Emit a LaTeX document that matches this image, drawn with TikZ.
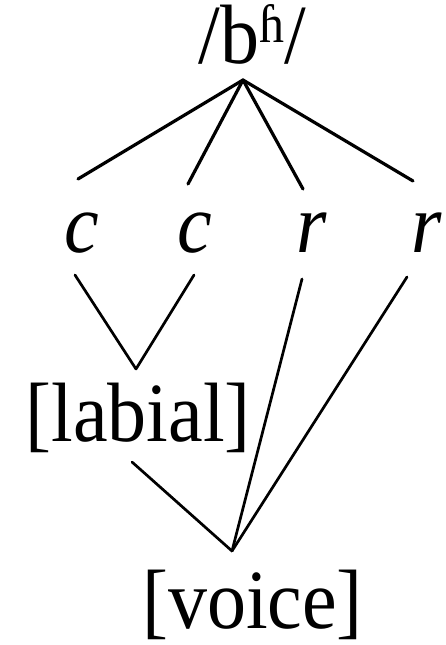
\documentclass[tikz,border=0pt]{standalone}
\usepackage{fontspec}
\setmainfont{Liberation Serif}
\usetikzlibrary{calc}

\newcommand{\tall}[1]{\scalebox{1}[1.08]{#1}}

\begin{document}
\begin{tikzpicture}[
        x=1pt, y=-1pt,
        every node/.style={font=\fontsize{78}{80}\selectfont, inner sep=0pt, anchor=base},
        seg/.style={line width=3.2pt, line cap=round},
        link/.style={line width=2.7pt, line cap=round}
    ]
        \useasboundingbox (0,0) rectangle (446,645);

        % tiers
        \node (root) at (252.5,63) {\tall{/b\raisebox{19pt}{\fontsize{50}{50}\selectfont ɦ}/}};
        \node (c1) at (82,252) {\tall{\textit{c}}};
        \node (c2) at (195,252) {\tall{\textit{c}}};
        \node (r1) at (312,252) {\tall{\textit{r}}};
        \node (r2) at (427,252) {\tall{\textit{r}}};
        \node (labial) at (138,441) {\tall{[labial]}};
        \node (voice) at (252.5,628) {\tall{[voice]}};

        \coordinate (apex) at ($(root.base)+(-9.5,17)$);
        \coordinate (lab) at ($(labial.base)+(-2,-72)$);
        \coordinate (voi) at ($(voice.base)+(-20.5,-77)$);

        % root to timing slots
        \draw[seg] (apex) -- ($(c1.base)+(-4,-73)$);
        \draw[seg] (apex) -- ($(c2.base)+(-7,-68)$);
        \draw[seg] (apex) -- ($(r1.base)+(-9,-63)$);
        \draw[seg] (apex) -- ($(r2.base)+(-14,-71)$);

        % place
        \draw[link] ($(c1.base)+(-7,23)$) -- (lab);
        \draw[link] ($(c2.base)+(-1,23)$) -- (lab);

        % laryngeal
        \draw[link] ($(labial.base)+(-6,21)$) -- (voi);
        \draw[link] ($(r1.base)+(-10,27)$) -- (voi);
        \draw[link] ($(r2.base)+(-20,25)$) -- (voi);

    \end{tikzpicture}
\end{document}
